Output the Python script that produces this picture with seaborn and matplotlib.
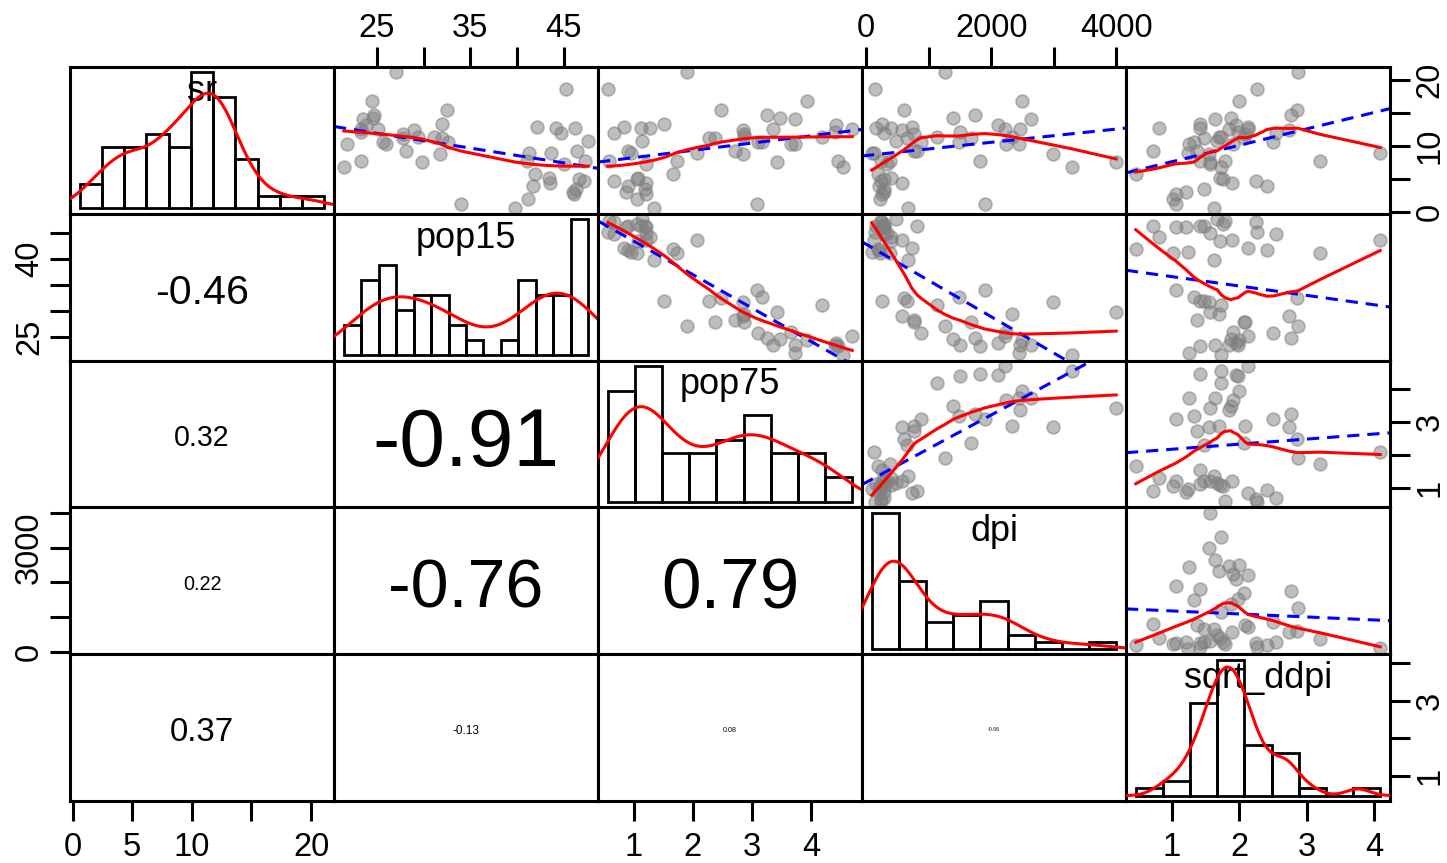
import numpy as np
import matplotlib
matplotlib.use("Agg")
import matplotlib.pyplot as plt
from matplotlib.transforms import ScaledTranslation
import seaborn as sns

# LifeCycleSavings: 50 countries
sr = [11.43, 12.07, 13.17, 5.75, 12.88, 8.79, 0.60, 11.90, 4.98, 10.78,
      16.85, 3.59, 11.24, 12.64, 12.55, 10.67, 3.01, 7.70, 1.27, 9.00,
      11.34, 14.28, 21.10, 3.98, 10.35, 15.48, 10.25, 14.65, 10.67, 7.30,
      4.44, 2.02, 12.70, 12.78, 12.49, 11.14, 13.30, 11.77, 6.86, 14.13,
      5.13, 2.81, 7.81, 7.56, 9.22, 18.56, 7.72, 9.24, 8.89, 4.71]
pop15 = [29.35, 23.32, 23.80, 41.89, 42.19, 31.72, 39.74, 44.75, 46.64, 47.64,
         24.42, 46.31, 27.84, 25.06, 23.31, 25.62, 46.05, 47.32, 34.03, 41.31,
         31.16, 24.52, 27.01, 41.74, 21.80, 32.54, 25.95, 24.71, 32.61, 45.04,
         43.56, 41.18, 44.19, 46.26, 28.96, 31.94, 31.92, 27.74, 21.44, 23.49,
         43.42, 46.12, 23.27, 29.81, 46.40, 45.25, 41.12, 28.13, 43.69, 47.20]
pop75 = [2.87, 4.41, 4.43, 1.67, 0.83, 2.85, 1.34, 0.67, 1.06, 1.14,
         3.93, 1.19, 2.37, 4.70, 3.35, 3.10, 0.87, 0.58, 3.08, 0.96,
         4.19, 3.48, 1.91, 0.91, 3.73, 2.47, 3.67, 3.25, 3.17, 1.21,
         1.20, 1.05, 1.28, 1.12, 2.85, 2.28, 1.52, 2.87, 4.54, 3.73,
         1.08, 1.21, 4.46, 3.43, 0.90, 0.56, 1.73, 2.72, 2.07, 0.66]
dpi = [2329.68, 1507.99, 2108.47, 189.13, 728.47, 2982.88, 662.86, 289.52, 276.65, 471.24,
       2496.53, 287.77, 1681.25, 2213.82, 2457.12, 870.85, 289.71, 232.44, 1900.10, 88.94,
       1139.95, 1390.00, 1257.28, 207.68, 2449.39, 601.05, 2231.03, 1740.70, 1487.52, 325.54,
       568.56, 220.56, 400.06, 152.01, 579.51, 651.11, 250.96, 768.79, 3299.49, 2630.96,
       389.66, 249.87, 1813.93, 4001.89, 813.39, 138.33, 380.47, 766.54, 123.58, 242.69]
sqrt_ddpi = [1.694, 1.982, 1.954, 0.469, 2.135, 1.559, 1.634, 2.551, 1.755, 1.673,
             1.997, 1.480, 2.078, 2.126, 1.855, 2.506, 1.217, 1.786, 1.058, 1.241,
             1.729, 1.881, 2.865, 2.410, 1.253, 2.850, 1.903, 2.768, 1.327, 1.575,
             1.900, 1.015, 0.819, 1.414, 2.735, 1.480, 1.414, 2.086, 1.735, 1.643,
             1.720, 1.063, 1.418, 1.565, 0.728, 2.267, 3.198, 1.371, 4.088, 2.254]

var_names = ["sr", "pop15", "pop75", "dpi", "sqrt_ddpi"]
var_values = [sr, pop15, pop75, dpi, sqrt_ddpi]
# histogram breaks (start, stop, step) for the diagonal panels
hist_breaks = [(0, 22, 2), (20, 48, 2), (0.5, 5.0, 0.5), (0, 4500, 500), (0, 4.5, 0.5)]

tick_values = {
    "sr": [0, 5, 10, 15, 20],
    "pop15": [25, 30, 35, 40, 45],
    "pop75": [1, 2, 3, 4],
    "dpi": [0, 1000, 2000, 3000, 4000],
    "sqrt_ddpi": [1, 2, 3, 4],
}
top_labels = {
    "pop15": ["25", "", "35", "", "45"],
    "dpi": ["0", "", "2000", "", "4000"],
}
bottom_labels = {
    "sr": ["0", "5", "10", "", "20"],
    "pop75": ["1", "2", "3", "4"],
    "sqrt_ddpi": ["1", "2", "3", "4"],
}
left_labels = {
    "pop15": ["25", "", "", "40", ""],
    "dpi": ["0", "", "", "3000", ""],
}
right_labels = {
    "sr": ["0", "", "10", "", "20"],
    "pop75": ["1", "", "3", ""],
    "sqrt_ddpi": ["1", "", "3", ""],
}

plt.rcParams["font.family"] = ["Liberation Sans", "DejaVu Sans"]

GREY = "#7f7f7f"
LW = 2.2
TICK_FS = 23.5
LABEL_FS = 26
COR_SCALE = 65


def lowess(x, y, f=2 / 3, iters=3):
    """Cleveland's robust locally weighted regression (as in R's lowess)."""
    x = np.asarray(x, float)
    y = np.asarray(y, float)
    order = np.argsort(x, kind="mergesort")
    xs, ys = x[order], y[order]
    n = len(xs)
    ns = max(min(int(f * n + 1e-7), n), 2)
    xr = xs[-1] - xs[0]
    rw = np.ones(n)
    fit = np.zeros(n)
    for it in range(iters + 1):
        for i in range(n):
            d = np.abs(xs - xs[i])
            h = np.sort(d)[ns - 1]
            w = np.zeros(n)
            inside = d <= 0.999 * h
            w[inside] = (1 - (d[inside] / h) ** 3) ** 3 if h > 0 else 1.0
            w[d <= 0.001 * h] = 1.0
            w *= rw
            a = w.sum()
            if a <= 0:
                fit[i] = ys[i]
                continue
            w = w / a
            if h > 0:
                ma = np.sum(w * xs)
                c = np.sum(w * (xs - ma) ** 2)
                if np.sqrt(c) > 0.001 * xr:
                    b = (xs[i] - ma) / c
                    w = w * (b * (xs - ma) + 1)
            fit[i] = np.sum(w * ys)
        if it == iters:
            break
        res = np.abs(ys - fit)
        cmad = 6 * np.median(res)
        if cmad < 1e-7 * res.mean():
            break
        r = res / cmad
        rw = np.where(r <= 0.001, 1.0, np.where(r <= 0.999, (1 - r ** 2) ** 2, 0.0))
    return xs, fit


def nrd0(v):
    v = np.asarray(v, float)
    q75, q25 = np.percentile(v, [75, 25])
    return 0.9 * min(v.std(ddof=1), (q75 - q25) / 1.34) * len(v) ** -0.2


def density_counts(v, grid, binw, bw):
    v = np.asarray(v, float)
    n = len(v)
    z = (grid[:, None] - v[None, :]) / bw
    dens = np.exp(-0.5 * z ** 2).sum(axis=1) / (n * bw * np.sqrt(2 * np.pi))
    return dens * n * binw


def padded(lo, hi):
    pad = 0.04 * (hi - lo)
    return lo - pad, hi + pad


limits = [padded(min(v), max(v)) for v in var_values]

fig = plt.figure(figsize=(14.47, 8.63), dpi=100)
L, R = 70 / 1447, 1390 / 1447
T, B = 1 - 67 / 863, 1 - 801 / 863
cw, ch = (R - L) / 5, (T - B) / 5
k = len(var_names)

for i in range(k):
    for j in range(k):
        rect = [L + j * cw, T - (i + 1) * ch, cw, ch]
        ax = fig.add_axes(rect)
        xv = np.asarray(var_values[j], float)
        yv = np.asarray(var_values[i], float)

        if i == j:
            ax.text(0.5, 0.835, var_names[i], transform=ax.transAxes,
                    ha="center", va="center", fontsize=LABEL_FS, zorder=1)
            # histogram lives in its own coordinate system on top of the panel
            hx = fig.add_axes(rect)
            hx.patch.set_visible(False)
            b0, b1, step = hist_breaks[i]
            edges = np.arange(b0, b1 + step / 2, step)
            counts, _ = np.histogram(xv, bins=edges)
            sns.histplot(x=xv, bins=edges, stat="count", fill=False, color="black",
                         linewidth=2.0, ax=hx)
            bw = nrd0(xv)
            grid = np.linspace(xv.min() - 3 * bw, xv.max() + 3 * bw, 512)
            dc = density_counts(xv, grid, step, bw)
            sns.lineplot(x=grid, y=dc, ax=hx, color="red", linewidth=LW,
                         estimator=None, sort=False)
            top = counts.max()
            hx.set_xlim(padded(edges[0], edges[-1]))
            hx.set_ylim(-0.04 * top, 1.04 * top)
            hx.set_axis_off()
        elif i < j:
            sns.scatterplot(x=xv, y=yv, ax=ax, s=85, color=GREY, alpha=0.5,
                            edgecolor=GREY, linewidth=1.3, zorder=2)
            slope, icpt = np.polyfit(xv, yv, 1)
            xl = np.array(limits[j])
            sns.lineplot(x=xl, y=icpt + slope * xl, ax=ax, color="blue",
                         linewidth=LW, dashes=(4, 2.6), estimator=None, sort=False,
                         zorder=3)
            lx, ly = lowess(xv, yv)
            sns.lineplot(x=lx, y=ly, ax=ax, color="red", linewidth=LW,
                         estimator=None, sort=False, zorder=4)
        else:
            r = np.corrcoef(xv, yv)[0, 1]
            fs = COR_SCALE * abs(r)
            shift = ScaledTranslation(0, -0.36 * fs / 72 - 0.02, fig.dpi_scale_trans)
            ax.text(0.5, 0.5, f"{r:.2f}", transform=ax.transAxes + shift,
                    ha="center", va="baseline", fontsize=fs)

        ax.set_xlim(limits[j])
        ax.set_ylim(limits[i])
        ax.set_xlabel("")
        ax.set_ylabel("")
        for s in ax.spines.values():
            s.set_linewidth(LW)
            s.set_color("black")
            s.set_zorder(10)

        name_x, name_y = var_names[j], var_names[i]
        show_top = i == 0 and name_x in top_labels
        show_bottom = i == k - 1 and name_x in bottom_labels
        show_left = j == 0 and name_y in left_labels
        show_right = j == k - 1 and name_y in right_labels

        if show_top or show_bottom:
            ax.set_xticks(tick_values[name_x])
            ax.set_xticklabels(top_labels[name_x] if show_top else bottom_labels[name_x])
        else:
            ax.set_xticks([])
        if show_left or show_right:
            ax.set_yticks(tick_values[name_y])
            ax.set_yticklabels(left_labels[name_y] if show_left else right_labels[name_y])
        else:
            ax.set_yticks([])

        ax.tick_params(axis="x", top=show_top, labeltop=show_top,
                       bottom=show_bottom, labelbottom=show_bottom,
                       direction="out", length=14.4, width=LW,
                       labelsize=TICK_FS, pad=8 if show_bottom else 2.5)
        ax.tick_params(axis="y", left=show_left, labelleft=show_left,
                       right=show_right, labelright=show_right,
                       direction="out", length=14.4, width=LW,
                       labelsize=TICK_FS, pad=3.5, labelrotation=90)
        for lab in ax.get_yticklabels():
            lab.set_verticalalignment("center")

fig.savefig("out.png", dpi=100, facecolor="white")
